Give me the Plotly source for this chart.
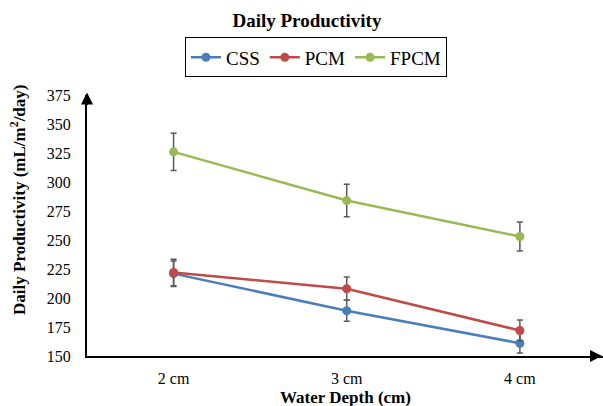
import plotly.graph_objects as go

categories = ["2 cm", "3 cm", "4 cm"]
css = [221, 189, 161]
css_err = [11, 9, 8.5]
pcm = [222, 208, 172]
pcm_err = [11.5, 10, 9]
fpcm = [326, 284, 253]
fpcm_err = [16, 14, 12.5]
y_ticks = [150, 175, 200, 225, 250, 275, 300, 325, 350, 375]

series = [("CSS", css, css_err, "#4A7EBB"),
          ("PCM", pcm, pcm_err, "#BE4B48"),
          ("FPCM", fpcm, fpcm_err, "#98B954")]

font = "Liberation Serif"
fig = go.Figure()
for name, vals, errs, col in series:
    fig.add_trace(go.Scatter(
        x=categories, y=vals, name=name, mode="lines+markers",
        line=dict(color=col, width=2.5),
        marker=dict(color=col, size=9),
        error_y=dict(type="data", array=errs, color="#595959", thickness=1.5, width=3),
    ))

fig.update_layout(
    width=603, height=406,
    margin=dict(l=87, r=0, t=95, b=50, autoexpand=False),
    paper_bgcolor="white", plot_bgcolor="white",
    font=dict(family=font, size=16, color="#000000"),
    title=dict(text="<b>Daily Productivity</b>", x=0.509, xanchor="center", xref="container",
               y=0.95, yanchor="middle", yref="container",
               font=dict(size=19, family=font)),
    showlegend=True,
    legend=dict(orientation="h", xref="container", x=0.524, xanchor="center",
                y=1.144, yanchor="middle",
                bordercolor="#000000", borderwidth=1, font=dict(size=19, family=font),
                itemwidth=30, tracegroupgap=0),
    xaxis=dict(range=[-0.5, 2.48], showline=True, linecolor="#000000", linewidth=2,
               showgrid=False, zeroline=False, ticks="", ticklabelstandoff=7, automargin=False),
    yaxis=dict(range=[150, 375], tickvals=y_ticks, showline=True, linecolor="#000000", linewidth=2,
               showgrid=False, zeroline=False, ticks="", ticklabelstandoff=11, automargin=False),
)

fig.add_annotation(xref="paper", yref="paper", x=-0.1337, y=0.598, xanchor="center", yanchor="middle",
                   text="<b>Daily Productivity (mL/m<sup>2</sup>/day)</b>", textangle=-90, showarrow=False,
                   font=dict(size=17, family=font, color="#000000"))
fig.add_annotation(xref="paper", yref="paper", x=0.5, y=-0.158, xanchor="center", yanchor="middle",
                   text="<b>Water Depth (cm)</b>", showarrow=False,
                   font=dict(size=17, family=font, color="#000000"))

fig.add_annotation(xref="paper", yref="paper", x=1.0, y=0, ax=-14, ay=0, axref="pixel", ayref="pixel",
                   text="", showarrow=True, arrowhead=2, arrowsize=1.2, arrowwidth=2, arrowcolor="#000000")
fig.add_annotation(xref="paper", yref="paper", x=0, y=1.01, ax=0, ay=14, axref="pixel", ayref="pixel",
                   text="", showarrow=True, arrowhead=2, arrowsize=1.2, arrowwidth=2, arrowcolor="#000000")

fig.write_html("out.html", config={"displayModeBar": False},
               post_script="document.body.style.margin='0';document.body.style.padding='0';")
